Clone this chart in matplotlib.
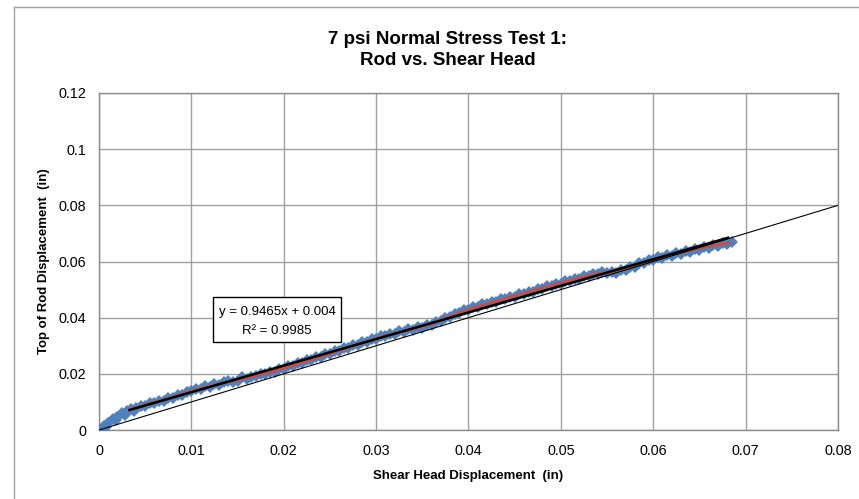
import matplotlib
matplotlib.use("Agg")
import matplotlib.pyplot as plt
from matplotlib.lines import Line2D
from matplotlib.patches import Rectangle

plt.rcParams["font.family"] = ["Liberation Sans", "DejaVu Sans"]

# measured points: shear head displacement (in) vs top-of-rod displacement (in)
shear_x = [
    0.0000, 0.0005, 0.0010, 0.0015, 0.0020, 0.0025, 0.0030, 0.0035, 0.0040, 0.0045,
    0.0050, 0.0055, 0.0060, 0.0065, 0.0070, 0.0075, 0.0080, 0.0085, 0.0090, 0.0095,
    0.0100, 0.0105, 0.0110, 0.0115, 0.0120, 0.0125, 0.0130, 0.0135, 0.0140, 0.0145,
    0.0150, 0.0155, 0.0160, 0.0165, 0.0170, 0.0175, 0.0180, 0.0185, 0.0190, 0.0195,
    0.0200, 0.0205, 0.0210, 0.0215, 0.0220, 0.0225, 0.0230, 0.0235, 0.0240, 0.0245,
    0.0250, 0.0255, 0.0260, 0.0265, 0.0270, 0.0275, 0.0280, 0.0285, 0.0290, 0.0295,
    0.0300, 0.0305, 0.0310, 0.0315, 0.0320, 0.0325, 0.0330, 0.0335, 0.0340, 0.0345,
    0.0350, 0.0355, 0.0360, 0.0365, 0.0370, 0.0375, 0.0380, 0.0385, 0.0390, 0.0395,
    0.0400, 0.0405, 0.0410, 0.0415, 0.0420, 0.0425, 0.0430, 0.0435, 0.0440, 0.0445,
    0.0450, 0.0455, 0.0460, 0.0465, 0.0470, 0.0475, 0.0480, 0.0485, 0.0490, 0.0495,
    0.0500, 0.0505, 0.0510, 0.0515, 0.0520, 0.0525, 0.0530, 0.0535, 0.0540, 0.0545,
    0.0550, 0.0555, 0.0560, 0.0565, 0.0570, 0.0575, 0.0580, 0.0585, 0.0590, 0.0595,
    0.0600, 0.0605, 0.0610, 0.0615, 0.0620, 0.0625, 0.0630, 0.0635, 0.0640, 0.0645,
    0.0650, 0.0655, 0.0660, 0.0665, 0.0670, 0.0675, 0.0680, 0.0685,
    0.0008, 0.0018, 0.0028, 0.0038,
]
rod_y = [
    0.0000, 0.0013, 0.0024, 0.0038, 0.0047, 0.0060, 0.0066, 0.0076, 0.0079, 0.0087,
    0.0087, 0.0095, 0.0096, 0.0104, 0.0105, 0.0114, 0.0115, 0.0124, 0.0126, 0.0136,
    0.0138, 0.0147, 0.0146, 0.0155, 0.0154, 0.0163, 0.0161, 0.0170, 0.0173, 0.0172,
    0.0176, 0.0188, 0.0183, 0.0190, 0.0191, 0.0199, 0.0199, 0.0208, 0.0208, 0.0218,
    0.0218, 0.0228, 0.0228, 0.0238, 0.0238, 0.0249, 0.0249, 0.0259, 0.0259, 0.0270,
    0.0270, 0.0281, 0.0281, 0.0291, 0.0291, 0.0302, 0.0302, 0.0312, 0.0312, 0.0323,
    0.0323, 0.0333, 0.0333, 0.0342, 0.0342, 0.0351, 0.0350, 0.0358, 0.0356, 0.0365,
    0.0363, 0.0373, 0.0374, 0.0386, 0.0388, 0.0400, 0.0403, 0.0414, 0.0416, 0.0427,
    0.0428, 0.0438, 0.0438, 0.0447, 0.0447, 0.0456, 0.0456, 0.0465, 0.0465, 0.0475,
    0.0474, 0.0484, 0.0483, 0.0493, 0.0492, 0.0502, 0.0502, 0.0511, 0.0511, 0.0521,
    0.0521, 0.0530, 0.0530, 0.0539, 0.0539, 0.0548, 0.0548, 0.0557, 0.0556, 0.0561,
    0.0558, 0.0563, 0.0560, 0.0570, 0.0569, 0.0580, 0.0581, 0.0593, 0.0594, 0.0605,
    0.0605, 0.0615, 0.0613, 0.0622, 0.0620, 0.0630, 0.0628, 0.0637, 0.0635, 0.0645,
    0.0642, 0.0652, 0.0649, 0.0659, 0.0656, 0.0665, 0.0662, 0.0669,
    0.0012, 0.0036, 0.0054, 0.0069,
]

# moving-average trend (red)
avg_x = [0.0033, 0.0050, 0.0080, 0.0100, 0.0130, 0.0160, 0.0190, 0.0220, 0.0250,
         0.0280, 0.0310, 0.0340, 0.0360, 0.0380, 0.0400, 0.0430, 0.0460, 0.0490,
         0.0520, 0.0540, 0.0560, 0.0580, 0.0600, 0.0620, 0.0640, 0.0660, 0.0682]
avg_y = [0.0072, 0.0089, 0.0117, 0.0138, 0.0164, 0.0185, 0.0210, 0.0240, 0.0272,
         0.0304, 0.0335, 0.0360, 0.0378, 0.0404, 0.0428, 0.0458, 0.0486, 0.0514,
         0.0541, 0.0556, 0.0565, 0.0585, 0.0607, 0.0625, 0.0640, 0.0654, 0.0666]

# linear trendline from the chart label
fit_slope = 0.9465
fit_intercept = 0.004
fit_x = [0.0033, 0.0681]

# 1:1 reference line
ref_x = [0.0, 0.08]
ref_y = [0.0, 0.08]

x_ticks = [0, 0.01, 0.02, 0.03, 0.04, 0.05, 0.06, 0.07, 0.08]
x_labels = ["0", "0.01", "0.02", "0.03", "0.04", "0.05", "0.06", "0.07", "0.08"]
y_ticks = [0, 0.02, 0.04, 0.06, 0.08, 0.10, 0.12]
y_labels = ["0", "0.02", "0.04", "0.06", "0.08", "0.1", "0.12"]

W, H = 859, 499
fig = plt.figure(figsize=(W / 100, H / 100), dpi=100)
ax = fig.add_axes([99 / W, (H - 430) / H, 739 / W, 337 / H])

ax.plot(shear_x, rod_y, linestyle="none", marker="D", markersize=6.5,
        color="#4F81BD", markeredgewidth=0, zorder=3)
ax.plot(avg_x, avg_y, color="#C0504D", linewidth=2.3, zorder=4)
fit_y = [fit_slope * v + fit_intercept for v in fit_x]
ax.plot(fit_x, fit_y, color="black", linewidth=1.8, zorder=5)
ax.plot(ref_x, ref_y, color="black", linewidth=0.8, zorder=6)

ax.set_xlim(0, 0.08)
ax.set_ylim(0, 0.12)
ax.set_xticks(x_ticks)
ax.set_xticklabels(x_labels)
ax.set_yticks(y_ticks)
ax.set_yticklabels(y_labels)
ax.tick_params(length=0, labelsize=10.4, colors="black")
ax.tick_params(axis="x", pad=10)
ax.tick_params(axis="y", pad=9)
ax.grid(True, color="#A0A0A0", linewidth=1.0)
ax.set_axisbelow(True)
for sp in ax.spines.values():
    sp.set_color("#8C8C8C")
    sp.set_linewidth(1.0)

ax.set_xlabel("Shear Head Displacement  (in)", fontsize=9.5,
              fontweight="bold", labelpad=9)
ax.set_ylabel("Top of Rod Displacement  (in)", fontsize=9.5,
              fontweight="bold", labelpad=6)

# equation box
ax.add_patch(Rectangle((0.1543, 0.262), 0.1732, 0.1327, transform=ax.transAxes,
                       facecolor="white", edgecolor="black", linewidth=1.0,
                       zorder=7))
ax.text(0.2409, 0.351, "y = 0.9465x + 0.004", transform=ax.transAxes,
        ha="center", va="center", fontsize=9.5, zorder=8)
ax.text(0.2409, 0.295, "R² = 0.9985", transform=ax.transAxes,
        ha="center", va="center", fontsize=9.5, zorder=8)

fig.text(448 / W, 1 - 50 / H, "7 psi Normal Stress Test 1:\nRod vs. Shear Head",
         ha="center", va="center", fontsize=13.5, fontweight="bold",
         linespacing=1.35)

# chart area border (top and left edges visible)
fig.add_artist(Line2D([13.5 / W, 1], [1 - 6.5 / H, 1 - 6.5 / H],
                      transform=fig.transFigure, color="#A0A0A0", linewidth=1.0))
fig.add_artist(Line2D([13.5 / W, 13.5 / W], [0, 1 - 6.5 / H],
                      transform=fig.transFigure, color="#A0A0A0", linewidth=1.0))

fig.savefig("out.png", dpi=100)
